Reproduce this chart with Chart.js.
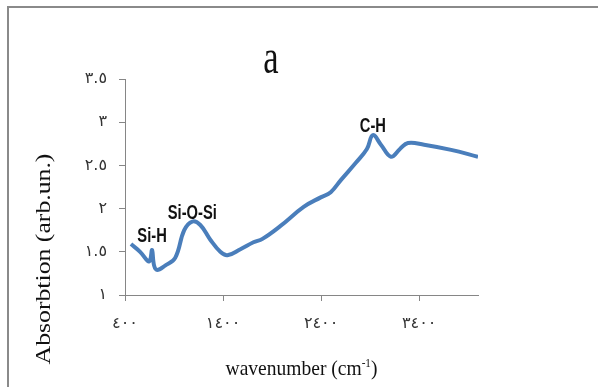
<!DOCTYPE html>
<html>
<head>
<meta charset="utf-8">
<script src="https://cdn.jsdelivr.net/npm/chart.js@4"></script>
<style>
  html, body { margin: 0; padding: 0; background: #fff; }
  #wrap { position: relative; width: 598px; height: 387px; }
</style>
</head>
<body>
<div id="wrap"><canvas id="c" width="598" height="387"></canvas></div>
<script>
// FTIR spectrum: wavenumber (cm-1) vs absorption (arb. units)
const wavenumber = [461, 554, 635, 656, 676, 697, 728, 809, 912, 1004, 1086, 1168, 1270, 1372, 1444, 1577, 1710, 1802, 1986, 2222, 2396, 2498, 2601, 2754, 2867, 2928, 3010, 3112, 3204, 3286, 3450, 3726, 4000];
const absorption = [1.59, 1.50, 1.39, 1.40, 1.52, 1.34, 1.29, 1.34, 1.43, 1.75, 1.85, 1.81, 1.64, 1.50, 1.46, 1.53, 1.61, 1.65, 1.80, 2.02, 2.13, 2.19, 2.33, 2.53, 2.69, 2.85, 2.74, 2.60, 2.69, 2.76, 2.74, 2.68, 2.60];

const xTicks = [400, 1400, 2400, 3400];
const xTickLabels = ['٤٠٠', '١٤٠٠', '٢٤٠٠', '٣٤٠٠'];
const yTicks = [1, 1.5, 2, 2.5, 3, 3.5];
const yTickLabels = ['١', '١.٥', '٢', '٢.٥', '٣', '٣.٥'];

// band assignments, each attached to the index of its peak point
const bandNames = ['Si-H', 'Si-O-Si', 'C-H'];
const bandPeakIndex = [4, 10, 25];

const chartTitle = 'a';
const xTitle = 'wavenumber (cm';
const xTitleSup = '-1';
const yTitle = 'Absorbtion (arb.un.)';

const axisGray = '#868686';

const decor = {
  id: 'decor',
  beforeDraw(chart) {
    const ctx = chart.ctx;
    ctx.save();
    ctx.fillStyle = '#8a8a8a';
    ctx.fillRect(7, 6, 591, 2);
    ctx.fillRect(7, 6, 2, 381);
    ctx.restore();
  },
  afterDraw(chart) {
    const ctx = chart.ctx;
    const xs = chart.scales.x, ys = chart.scales.y;
    ctx.save();
    ctx.fillStyle = '#111';

    // chart title
    ctx.save();
    ctx.font = '48px "Liberation Serif", serif';
    ctx.textAlign = 'center';
    ctx.textBaseline = 'alphabetic';
    ctx.translate(271, 73);
    ctx.scale(0.72, 1);
    ctx.fillText(chartTitle, 0, 0);
    ctx.restore();

    // x axis title with superscript
    ctx.save();
    const mainFont = '21px "Liberation Serif", serif';
    const supFont = '12px "Liberation Serif", serif';
    ctx.font = mainFont;
    const w1 = ctx.measureText(xTitle).width;
    const w3 = ctx.measureText(')').width;
    ctx.font = supFont;
    const w2 = ctx.measureText(xTitleSup).width;
    const total = w1 + w2 + w3;
    const sx = 0.93;
    ctx.translate(301.5 - total * sx / 2, 375);
    ctx.scale(sx, 1);
    ctx.textAlign = 'left';
    ctx.textBaseline = 'alphabetic';
    ctx.font = mainFont;
    ctx.fillText(xTitle, 0, 0);
    ctx.font = supFont;
    ctx.fillText(xTitleSup, w1, -8);
    ctx.font = mainFont;
    ctx.fillText(')', w1 + w2, 0);
    ctx.restore();

    // y axis title
    ctx.save();
    ctx.font = '22px "Liberation Serif", serif';
    ctx.textAlign = 'center';
    ctx.textBaseline = 'alphabetic';
    ctx.translate(50, 259);
    ctx.rotate(-Math.PI / 2);
    ctx.scale(1.17, 1);
    ctx.fillText(yTitle, 0, 0);
    ctx.restore();

    // band labels above their peaks
    const lift = [8, 3, 3];
    bandNames.forEach((name, i) => {
      const k = bandPeakIndex[i];
      const px = xs.getPixelForValue(wavenumber[k]);
      const py = ys.getPixelForValue(absorption[k]);
      ctx.save();
      ctx.font = 'bold 21px "Liberation Sans", Arial, sans-serif';
      ctx.textAlign = 'center';
      ctx.textBaseline = 'alphabetic';
      ctx.translate(px, py - lift[i]);
      ctx.scale(0.7, 1);
      ctx.fillText(name, 0, 0);
      ctx.restore();
    });
    ctx.restore();
  }
};

new Chart(document.getElementById('c'), {
  type: 'scatter',
  data: {
    datasets: [{
      data: wavenumber.map((w, i) => ({ x: w, y: absorption[i] })),
      showLine: true,
      borderColor: '#4a7ebb',
      borderWidth: 4,
      pointRadius: 0,
      tension: 0.4,
      fill: false
    }]
  },
  options: {
    responsive: false,
    animation: false,
    layout: { padding: { left: 0, right: 120, top: 79, bottom: 0 } },
    plugins: { legend: { display: false }, tooltip: { enabled: false }, title: { display: false } },
    scales: {
      x: {
        type: 'linear',
        min: 400,
        max: 4000,
        afterFit(s) { s.height = 92; },
        afterBuildTicks(s) { s.ticks = xTicks.map(v => ({ value: v })); },
        grid: { display: true, drawOnChartArea: false, drawTicks: true, tickLength: 6, color: axisGray, lineWidth: 1 },
        border: { display: true, color: axisGray, width: 1 },
        ticks: {
          padding: 13,
          color: '#333',
          font: { family: '"DejaVu Sans", sans-serif', size: 16 },
          maxRotation: 0,
          callback: (v) => { const i = xTicks.indexOf(v); return i >= 0 ? xTickLabels[i] : ''; }
        }
      },
      y: {
        type: 'linear',
        min: 1,
        max: 3.5,
        afterFit(s) { s.width = 125; },
        afterBuildTicks(s) { s.ticks = yTicks.map(v => ({ value: v })); },
        grid: { display: true, drawOnChartArea: false, drawTicks: true, tickLength: 6, color: axisGray, lineWidth: 1 },
        border: { display: true, color: axisGray, width: 1 },
        ticks: {
          padding: 12,
          color: '#333',
          font: { family: '"DejaVu Sans", sans-serif', size: 16 },
          callback: (v) => { const i = yTicks.indexOf(v); return i >= 0 ? yTickLabels[i] : ''; }
        }
      }
    }
  },
  plugins: [decor]
});
</script>
</body>
</html>
